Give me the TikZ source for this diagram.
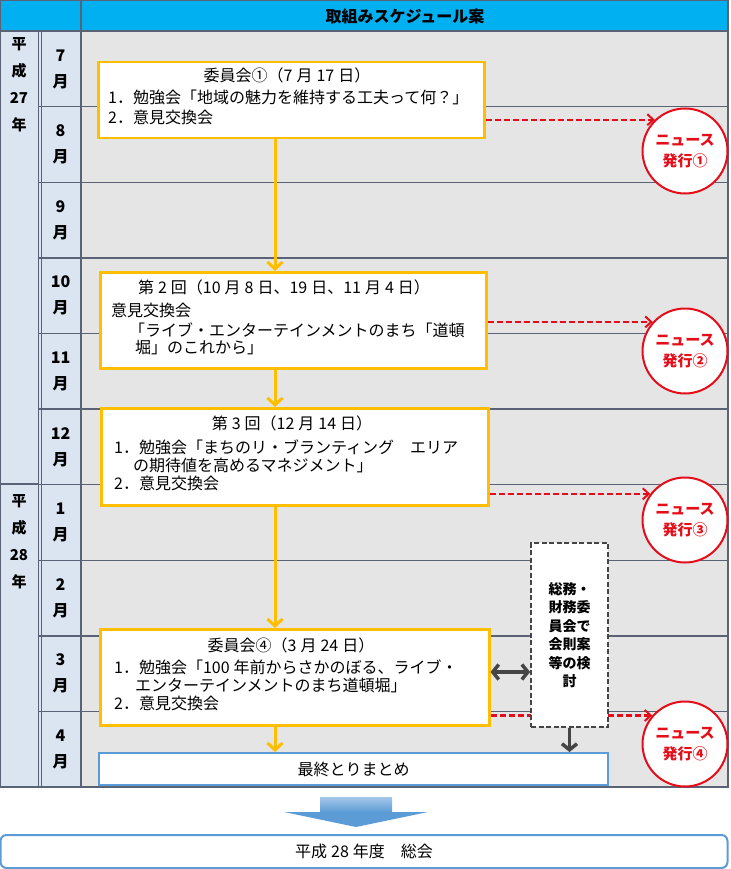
\documentclass[tikz,border=0pt]{standalone}
\usepackage{fontspec}
\setmainfont{Noto Sans CJK JP}
\usetikzlibrary{arrows.meta,calc}
\definecolor{HeadClr}{rgb}{0,0.69,0.94}
\definecolor{ColClr}{rgb}{0.86,0.9,0.95}
\definecolor{AreaClr}{rgb}{0.9,0.9,0.9}
\definecolor{GridClr}{rgb}{0.35,0.39,0.46}
\definecolor{BoxClr}{rgb}{1,0.75,0}
\definecolor{NewsClr}{rgb}{0.9,0.05,0.1}
\definecolor{SideClr}{rgb}{0.27,0.27,0.27}
\definecolor{EndClr}{rgb}{0.36,0.61,0.84}
\newcommand{\ks}{\hspace{4pt}}

\begin{document}
\begin{tikzpicture}[x=1pt,y=-1pt,
  gridline/.style={draw=GridClr,line width=1.4pt},
  kaibox/.style={draw=BoxClr,line width=2.5pt,fill=white,anchor=north west,inner sep=0pt},
  titletxt/.style={font=\fontsize{16}{18}\selectfont,inner sep=0pt},
  linetxt/.style={font=\fontsize{16}{18}\selectfont,anchor=west,inner sep=0pt},
  monthtxt/.style={font=\fontsize{16}{26}\selectfont\bfseries,align=center,inner sep=0pt},
  yeartxt/.style={font=\fontsize{15}{27}\selectfont\bfseries,align=center,inner sep=0pt},
  newscircle/.style={circle,draw=NewsClr,line width=2pt,fill=white,minimum size=85pt,inner sep=0pt,
    text=NewsClr,align=center,font=\fontsize{15}{21}\selectfont\bfseries},
  newsarrow/.style={draw=NewsClr,line width=2.2pt,dash pattern=on 6pt off 3pt,
    -{Straight Barb[length=6pt,width=11pt,line width=2pt]}},
  yarrow/.style={draw=BoxClr,line width=3pt,-{Straight Barb[length=7pt,width=15pt,line width=3pt]}},
  sidearrow/.style={draw=SideClr,line width=3.5pt,{Straight Barb[length=6pt,width=15pt,line width=3.5pt]}-{Straight Barb[length=6pt,width=15pt,line width=3.5pt]}},
  downarrow/.style={draw=SideClr,line width=3.5pt,-{Straight Barb[length=6pt,width=15pt,line width=3.5pt]}},
  dashbox/.style={draw=SideClr,line width=1.8pt,dash pattern=on 5pt off 2.5pt,fill=white,align=center,
    inner sep=0pt,font=\fontsize{14}{18.5}\selectfont\bfseries},
  endbox/.style={draw=EndClr,line width=2pt,fill=white,inner sep=0pt,font=\fontsize{16}{18}\selectfont}]
\useasboundingbox (0,0) rectangle (730,869);

\fill[HeadClr] (0,0) rectangle (728,31);
\fill[ColClr] (0,31) rectangle (81,787);
\fill[AreaClr] (81,31) rectangle (728,787);
\foreach \r in {1,...,9}
  \draw[gridline] (39,{31+75.6*\r}) -- (728,{31+75.6*\r});
\draw[gridline] (0,484) -- (39,484);
\draw[gridline] (0,31) -- (728,31);
\draw[gridline,line width=0.9pt] (38,31) -- (38,787) (41,31) -- (41,787);
\draw[gridline] (81,0) -- (81,787);
\draw[gridline,line width=2pt] (0,0) rectangle (728,787);

\node[font=\fontsize{16}{18}\selectfont\bfseries] (kumi) at (405,16) {取組みスケジュール案};
\node[yeartxt] (heisei27) at (19,85) {平\\成\\27\\年};
\node[yeartxt] (heisei28) at (19,542) {平\\成\\28\\年};
\foreach \m [count=\i from 0] in {7,8,9,10,11,12,1,2,3,4}
  \node[monthtxt] (tsuki\m) at (60.5,{31+75.6*\i+38}) {\m\\月};

\node[kaibox,minimum width=386pt,minimum height=76pt] (kai1) at (97,61) {};
\node[titletxt] (kai1t) at (287,75) {委員会①（7\ks 月\ks 17\ks 日）};
\node[linetxt] (kai1a) at (108,97) {1．勉強会「地域の魅力を維持する工夫って何？」};
\node[linetxt] (kai1b) at (108,117) {2．意見交換会};

\node[kaibox,minimum width=386pt,minimum height=96pt] (kai2) at (99,271) {};
\node[titletxt] (kai2t) at (284,287) {第\ks 2\ks 回（10\ks 月\ks 8\ks 日、19\ks 日、11\ks 月\ks 4\ks 日）};
\node[linetxt] (kai2a) at (111,310) {意見交換会};
\node[linetxt] (kai2b) at (129,330) {「ライブ・エンターテインメントのまち「道頓};
\node[linetxt] (kai2c) at (135,348) {堀」のこれから」};

\node[kaibox,minimum width=387pt,minimum height=97pt] (kai3) at (100,407) {};
\node[titletxt] (kai3t) at (292,423) {第\ks 3\ks 回（12\ks 月\ks 14\ks 日）};
\node[linetxt] (kai3a) at (114,447) {1．勉強会「まちのリ・ブランティング　エリア};
\node[linetxt] (kai3b) at (133,465) {の期待値を高めるマネジメント」};
\node[linetxt] (kai3c) at (114,483) {2．意見交換会};

\node[kaibox,minimum width=389pt,minimum height=96pt] (kai4) at (99,628) {};
\node[titletxt] (kai4t) at (291,645) {委員会④（3\ks 月\ks 24\ks 日）};
\node[linetxt] (kai4a) at (114,667) {1．勉強会「100\ks 年前からさかのぼる、ライブ・};
\node[linetxt] (kai4b) at (135,685) {エンターテインメントのまち道頓堀」};
\node[linetxt] (kai4c) at (114,703) {2．意見交換会};

\node[endbox,minimum width=509pt,minimum height=32pt] (matome) at (353.5,769) {最終とりまとめ};

\coordinate (ax) at (275,0);
\draw[yarrow] (kai1.south -| ax) -- (kai2.north -| ax);
\draw[yarrow] (kai2.south -| ax) -- (kai3.north -| ax);
\draw[yarrow] (kai3.south -| ax) -- (kai4.north -| ax);
\draw[yarrow] (kai4.south -| ax) -- (matome.north -| ax);

\node[newscircle] (news1) at (685,151) {ニュース\\発行①};
\node[newscircle] (news2) at (685,351) {ニュース\\発行②};
\node[newscircle] (news3) at (685,520) {ニュース\\発行③};
\node[newscircle] (news4) at (685,744) {ニュース\\発行④};
\draw[newsarrow] (kai1.east |- news1.134) -- (news1.134);
\draw[newsarrow] (kai2.east |- news2.138) -- (news2.138);
\draw[newsarrow] (kai3.east |- news3.143) -- (news3.143);
\draw[newsarrow] (kai4.east |- news4.139) -- (news4.139);

\node[dashbox,minimum width=77pt,minimum height=184pt] (somu) at (569.5,635) {総務・\\財務委\\員会で\\会則案\\等の検\\討};
\coordinate (sy) at (0,672);
\draw[sidearrow] (kai4.east |- sy) -- (somu.west |- sy);
\draw[downarrow] (somu.south) -- (somu.south |- matome.north);

\shade[top color=EndClr!55!white,bottom color=EndClr,middle color=EndClr]
  (320,797) -- (392,797) -- (392,812) -- (428,812) -- (356,827) -- (284,812) -- (320,812) -- cycle;
\node[endbox,rounded corners=6pt,minimum width=727pt,minimum height=33pt] (soukai) at (364,851.5) {平成\ks 28\ks 年度　総会};
\end{tikzpicture}
\end{document}
